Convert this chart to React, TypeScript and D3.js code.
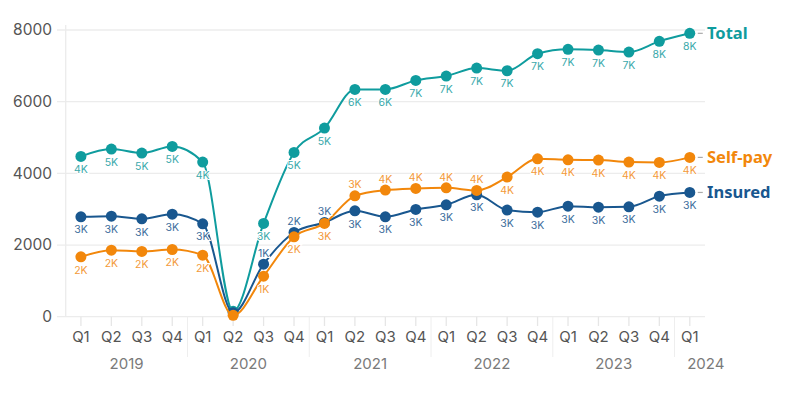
import React from "react";
import * as d3 from "d3";

const quarters = ["Q1","Q2","Q3","Q4","Q1","Q2","Q3","Q4","Q1","Q2","Q3","Q4","Q1","Q2","Q3","Q4","Q1","Q2","Q3","Q4","Q1"];
const years = ["2019","2019","2019","2019","2020","2020","2020","2020","2021","2021","2021","2021","2022","2022","2022","2022","2023","2023","2023","2023","2024"];
const yearLabels = ["2019","2020","2021","2022","2023","2024"];

const totalValues = [4473,4677,4565,4752,4314,150,2602,4584,5263,6343,6343,6594,6715,6938,6863,7338,7460,7441,7385,7683,7907];
const insuredValues = [2787,2806,2731,2862,2592,110,1466,2350,2630,2954,2787,2993,3122,3401,2974,2918,3085,3057,3066,3364,3467];
const selfPayValues = [1670,1857,1820,1875,1717,40,1131,2229,2602,3373,3532,3579,3596,3523,3895,4406,4378,4370,4314,4305,4445];

// label placement: true = above point
const insuredAbove = [false,false,false,false,false,false,true,true,true,false,false,false,false,false,false,false,false,false,false,false,false];
const selfPayAbove = [false,false,false,false,false,false,false,false,false,true,true,true,true,true,false,false,false,false,false,false,false];
const totalAbove = quarters.map(() => false);

const yTicks = [0, 2000, 4000, 6000, 8000];

const seriesDefs = [
  { name: "Total", values: totalValues, above: totalAbove, color: "#0f9c9e", labelColor: "#3aa9ab" },
  { name: "Insured", values: insuredValues, above: insuredAbove, color: "#19578f", labelColor: "#3d6d9c" },
  { name: "Self-pay", values: selfPayValues, above: selfPayAbove, color: "#f2870b", labelColor: "#f39a3a" },
];

const W = 800, H = 400;
const left = 65.7, right = 705, top = 30, bottom = 316.7;
const FONT = "Inter, 'Noto Sans', sans-serif";

export default function App() {
  const idx = quarters.map((_, i) => String(i));
  const x = d3.scaleBand<string>().domain(idx).range([left, right]).padding(0);
  const cx = (i: number) => (x(String(i)) as number) + x.bandwidth() / 2;
  const y = d3.scaleLinear().domain([0, 8000]).range([bottom, top]);
  const line = d3.line<number>().x((_, i) => cx(i)).y(d => y(d)).curve(d3.curveMonotoneX);

  // year boundaries
  const boundaries: number[] = [];
  for (let i = 1; i < years.length; i++) if (years[i] !== years[i - 1]) boundaries.push(x(String(i)) as number);
  const yearPos = yearLabels.map(yr => {
    const ids = years.map((v, i) => (v === yr ? i : -1)).filter(i => i >= 0);
    const a = cx(ids[0]), b = cx(ids[ids.length - 1]);
    return { yr, pos: ids.length === 1 ? a + 16 : (a + b) / 2 };
  });

  const fmt = (v: number) => `${Math.round(v / 1000)}K`;

  return (
    <svg width={W} height={H} style={{ position: "absolute", left: 0, top: 0, background: "#fff" }}>
      {/* gridlines */}
      {yTicks.map(t => (
        <g key={t}>
          <line x1={57} x2={right} y1={y(t)} y2={y(t)} stroke="#ececec" strokeWidth={1.3} />
          <text x={52} y={y(t)} dy="0.35em" textAnchor="end" fontFamily={FONT} fontSize={15.5} fill="#555">{t}</text>
        </g>
      ))}
      <line x1={left} x2={left} y1={25} y2={bottom} stroke="#ececec" strokeWidth={1.3} />
      {/* x ticks */}
      {quarters.map((q, i) => (
        <g key={i}>
          <line x1={cx(i)} x2={cx(i)} y1={bottom} y2={326} stroke="#e6e6e6" strokeWidth={1.3} />
          <text x={cx(i)} y={337} dy="0.35em" textAnchor="middle" fontFamily={FONT} fontSize={15} fill="#555">{q}</text>
        </g>
      ))}
      {boundaries.map((b, i) => (
        <line key={i} x1={b} x2={b} y1={bottom} y2={357} stroke="#eeeeee" strokeWidth={1} />
      ))}
      {yearPos.map(d => (
        <text key={d.yr} x={d.pos} y={364} dy="0.35em" textAnchor="middle" fontFamily={FONT} fontSize={15} fill="#7a7a7a">{d.yr}</text>
      ))}
      {/* series */}
      {seriesDefs.map(s => (
        <g key={s.name}>
          <path d={line(s.values) || ""} fill="none" stroke={s.color} strokeWidth={2} />
          {s.values.map((v, i) => (
            <circle key={i} cx={cx(i)} cy={y(v)} r={5.5} fill={s.color} />
          ))}
        </g>
      ))}
      {seriesDefs.map(s => (
        <g key={s.name + "l"}>
          {s.values.map((v, i) => i === 5 ? null : (
            <text key={i} x={cx(i)} y={y(v) + (s.above[i] ? -11 : 13)} dy="0.35em" textAnchor="middle"
              fontFamily={FONT} fontSize={10.5} fill={s.labelColor}
              stroke="#fff" strokeWidth={2} paintOrder="stroke">{fmt(v)}</text>
          ))}
          <line x1={cx(20) + 8} x2={cx(20) + 13} y1={y(s.values[20])} y2={y(s.values[20])} stroke="#aaa" strokeWidth={1.2} />
          <text x={707} y={y(s.values[20])} dy="0.35em" fontFamily="'Noto Sans', sans-serif" fontWeight={700} fontSize={16.5} fill={s.color}>{s.name}</text>
        </g>
      ))}
    </svg>
  );
}
